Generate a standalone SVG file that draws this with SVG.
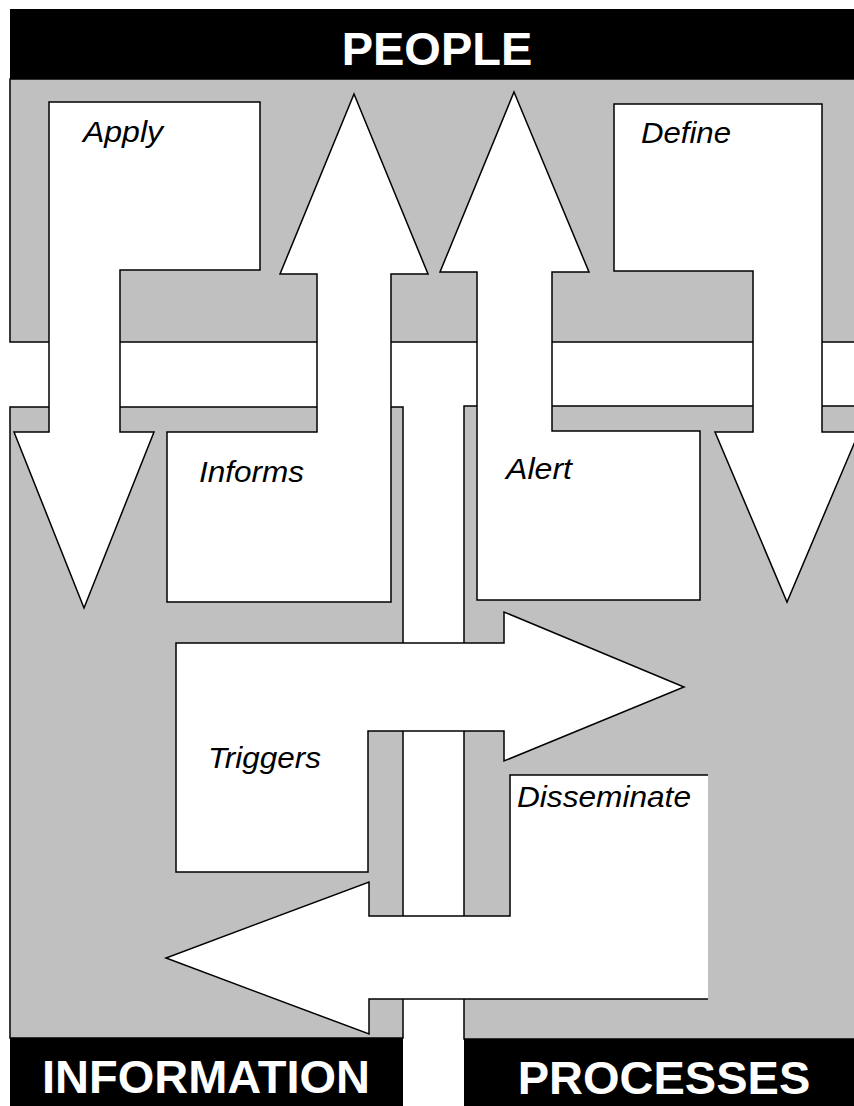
<svg xmlns="http://www.w3.org/2000/svg" width="854" height="1106" viewBox="0 0 854 1106">
<style>
.panel{fill:#c0c0c0;stroke:#000;stroke-width:1.5}
.bar{fill:#000}
.title{font-family:"Liberation Sans",Arial,sans-serif;font-weight:bold;font-size:47px;fill:#fff;text-anchor:middle}
.arrow{fill:#fff;stroke:#000;stroke-width:1.5;stroke-linejoin:miter}
.lbl{font-family:"Liberation Sans",Arial,sans-serif;font-style:italic;font-size:30px;fill:#000}
</style>
<rect width="854" height="1106" fill="#fff"/>
<g id="people">
<rect class="panel" x="10" y="79" width="850" height="263"/>
<rect class="bar" x="10" y="9" width="850" height="70"/>
<text class="title" x="437" y="65">PEOPLE</text>
</g>
<g id="information">
<rect class="panel" x="10" y="407" width="393" height="631"/>
<rect class="bar" x="10" y="1038" width="393" height="70"/>
<text class="title" x="206" y="1093">INFORMATION</text>
</g>
<g id="processes">
<rect class="panel" x="464" y="406" width="400" height="633"/>
<rect class="bar" x="464" y="1039" width="400" height="70"/>
<text class="title" x="664" y="1094">PROCESSES</text>
</g>
<g id="connectors">
<g id="apply">
<polygon class="arrow" points="49,102 260,102 260,270 120,270 120,432 154,432 84,608 14,432 49,432"/>
<text class="lbl" x="83" y="142" textLength="80" lengthAdjust="spacingAndGlyphs">Apply</text>
</g>
<g id="informs">
<polygon class="arrow" points="354,94 428,274 391,274 391,602 167,602 167,432 317,432 317,274 280,274"/>
<text class="lbl" x="199" y="482" textLength="105" lengthAdjust="spacingAndGlyphs">Informs</text>
</g>
<g id="alert">
<polygon class="arrow" points="514,92 589,272 552,272 552,431 700,431 700,600 477,600 477,272 440,272"/>
<text class="lbl" x="506" y="479" textLength="66" lengthAdjust="spacingAndGlyphs">Alert</text>
</g>
<g id="define">
<polygon class="arrow" points="614,104 822,104 822,432 859,432 787,602 715,432 753,432 753,271 614,271"/>
<text class="lbl" x="641" y="143" textLength="90" lengthAdjust="spacingAndGlyphs">Define</text>
</g>
<g id="triggers">
<polygon class="arrow" points="176,643 504,643 504,612 684,687 504,761 504,731 368,731 368,872 176,872"/>
<text class="lbl" x="208" y="768" textLength="113" lengthAdjust="spacingAndGlyphs">Triggers</text>
</g>
<g id="disseminate">
<polygon points="510,775 708,775 708,999 369,999 369,1034 166,958 369,882 369,916 510,916" fill="#fff" stroke="none"/>
<polyline points="708,775 510,775 510,916 369,916 369,882 166,958 369,1034 369,999 708,999" fill="none" stroke="#000" stroke-width="1.5"/>
<text class="lbl" x="517" y="807" textLength="174" lengthAdjust="spacingAndGlyphs">Disseminate</text>
</g>
</g>
</svg>
